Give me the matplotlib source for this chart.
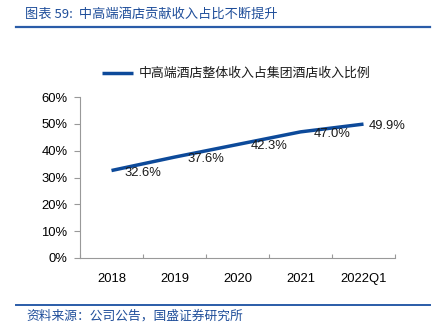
import matplotlib
matplotlib.use("Agg")
import matplotlib.pyplot as plt
from matplotlib.lines import Line2D

plt.rcParams['font.family'] = ['Noto Sans CJK SC', 'DejaVu Sans']

categories = ['2018', '2019', '2020', '2021', '2022Q1']
values = [0.326, 0.376, 0.423, 0.470, 0.499]
value_labels = ['32.6%', '37.6%', '42.3%', '47.0%', '49.9%']
y_ticks = [0.0, 0.1, 0.2, 0.3, 0.4, 0.5, 0.6]
y_tick_labels = ['0%', '10%', '20%', '30%', '40%', '50%', '60%']
series_name = '中高端酒店整体收入占集团酒店收入比例'
title = '图表 59:  中高端酒店贡献收入占比不断提升'
source = '资料来源：公司公告，国盛证券研究所'

W, H = 441, 328
fig = plt.figure(figsize=(W / 100, H / 100), dpi=100)

ax = fig.add_axes([80 / W, 1 - 258 / H, (395 - 80) / W, (258 - 97) / H])
x = list(range(len(categories)))
line_color = '#0D4A9A'
ax.plot(x, values, color=line_color, lw=2.5, solid_capstyle='butt', solid_joinstyle='round')

num_font = dict(family=['Liberation Sans', 'DejaVu Sans'], size=9.4)
offsets_px = [13, 13, 13, 13, 5]
for xi, v, lab, off in zip(x, values, value_labels, offsets_px):
    ax.annotate(lab, (xi, v), xytext=(off * 0.72, -2 * 0.72), textcoords='offset points',
                ha='left', va='center', color='#1a1a1a', **num_font)

ax.set_xlim(-0.5, len(categories) - 0.5)
ax.set_ylim(0, 0.6)
ax.set_yticks(y_ticks)
ax.set_yticklabels(y_tick_labels, **num_font)
ax.set_xticks([i - 0.5 for i in range(len(categories) + 1)], minor=False)
ax.set_xticklabels([])
ax.set_xticks(x, minor=True)
ax.set_xticklabels(categories, minor=True, **num_font)
ax.tick_params(axis='x', which='major', direction='in', length=3, color='#999999')
ax.tick_params(axis='x', which='minor', length=0, pad=11)
ax.tick_params(axis='y', direction='out', length=4, color='#999999', pad=5)
for s in ['top', 'right']:
    ax.spines[s].set_visible(False)
for s in ['left', 'bottom']:
    ax.spines[s].set_color('#999999')
    ax.spines[s].set_linewidth(0.8)

# legend
fig.add_artist(Line2D([102 / W, 133 / W], [1 - 73 / H, 1 - 73 / H], color=line_color, lw=2.5,
                      solid_capstyle='butt'))
fig.text(139 / W, 1 - 73 / H, series_name, ha='left', va='center', fontsize=9.3, color='#1a1a1a')

# header / footer
blue = '#1F4E9A'
fig.text(25 / W, 1 - 14 / H, title, ha='left', va='center', fontsize=9.5, color=blue)
fig.add_artist(Line2D([16 / W, 430 / W], [1 - 27 / H, 1 - 27 / H], color='#2A5CA8', lw=1.6))
fig.add_artist(Line2D([16 / W, 430 / W], [1 - 305 / H, 1 - 305 / H], color='#2A5CA8', lw=1.4))
fig.text(26 / W, 1 - 316 / H, source, ha='left', va='center', fontsize=9.2, color=blue)

fig.savefig('out.png', dpi=100)
